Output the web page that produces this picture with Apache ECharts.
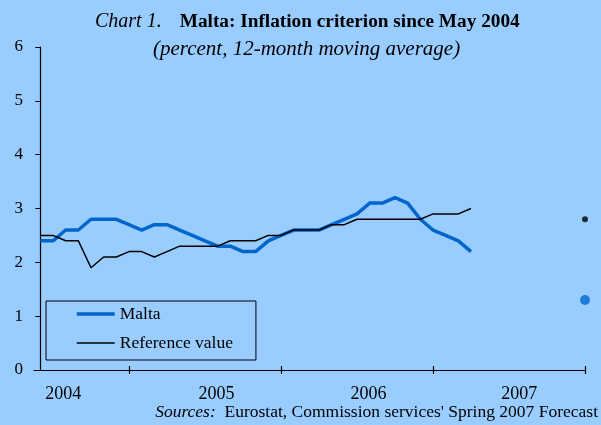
<!DOCTYPE html>
<html>
<head>
<meta charset="utf-8">
<script src="https://cdn.jsdelivr.net/npm/echarts@6/dist/echarts.min.js"></script>
<style>
html,body{margin:0;padding:0;background:#99CCFF;}
#c{width:601px;height:425px;}
</style>
</head>
<body>
<div id="c"></div>
<script>
// Month index: 0 = May 2004
var maltaValues = [
  2.4, 2.4, 2.6, 2.6, 2.8, 2.8, 2.8, 2.7,
  2.6, 2.7, 2.7, 2.6, 2.5, 2.4, 2.3, 2.3, 2.2, 2.2, 2.4, 2.5,
  2.6, 2.6, 2.6, 2.7, 2.8, 2.9, 3.1, 3.1, 3.2, 3.1, 2.8, 2.6,
  2.5, 2.4, 2.2
];
var referenceValues = [
  2.5, 2.5, 2.4, 2.4, 1.9, 2.1, 2.1, 2.2,
  2.2, 2.1, 2.2, 2.3, 2.3, 2.3, 2.3, 2.4, 2.4, 2.4, 2.5, 2.5,
  2.6, 2.6, 2.6, 2.7, 2.7, 2.8, 2.8, 2.8, 2.8, 2.8, 2.8, 2.9,
  2.9, 2.9, 3.0
];
var forecastMonth = 43; // Dec 2007
var maltaForecast = 1.3;
var referenceForecast = 2.8;
var yearLabels = ['2004', '2005', '2006', '2007'];
var yearLabelMonths = [1.8, 13.9, 25.9, 37.8];
var yearEndMonths = [7, 19, 31, 43];
var yTicks = [0, 1, 2, 3, 4, 5, 6];

function toPairs(arr) { return arr.map(function (v, i) { return [i, v]; }); }

var FONT = 'Liberation Serif';
var chart = echarts.init(document.getElementById('c'));
var xBase = {
  type: 'value', min: -0.5, max: 43, position: 'bottom',
  splitLine: { show: false }
};
chart.setOption({
  backgroundColor: '#99CCFF',
  animation: false,
  textStyle: { fontFamily: FONT, color: '#000' },
  title: [{
    left: 95, top: 12, padding: 0,
    text: '{a|Chart 1.}    {b|Malta: Inflation criterion since May 2004}',
    textStyle: { rich: {
      a: { fontFamily: FONT, fontStyle: 'italic', fontWeight: 'normal', fontSize: 20, color: '#000' },
      b: { fontFamily: FONT, fontWeight: 'bold', fontSize: 19.3, color: '#000' }
    } }
  }, {
    left: 153, top: 39, padding: 0,
    text: '(percent, 12-month moving average)',
    textStyle: { fontFamily: FONT, fontStyle: 'italic', fontWeight: 'normal', fontSize: 21, color: '#000' }
  }],
  graphic: [{
    type: 'text', right: 3, top: 403,
    style: {
      text: '{i|Sources:}  Eurostat, Commission services\' Spring 2007 Forecast',
      font: '17.5px "Liberation Serif"', fill: '#000',
      rich: { i: { fontFamily: FONT, fontStyle: 'italic', fontSize: 17.5, fill: '#000' } }
    }
  }],
  legend: {
    orient: 'vertical', left: 46, top: 301,
    padding: [4, 23, 8, 29], itemGap: 11, itemWidth: 38, itemHeight: 18,
    borderColor: '#000', borderWidth: 1, backgroundColor: '#99CCFF',
    itemStyle: { opacity: 0 },
    textStyle: { fontFamily: FONT, fontSize: 17.5, color: '#000' },
    data: [
      { name: 'Malta', lineStyle: { width: 3.5, color: '#0066CC' } },
      { name: 'Reference value', lineStyle: { width: 1.5, color: '#000' } }
    ]
  },
  grid: { left: 34, right: 16, top: 47, bottom: 55, containLabel: false },
  xAxis: [
    Object.assign({}, xBase, {
      axisLine: { show: true, lineStyle: { color: '#000', width: 1.2 } },
      axisTick: { show: true, inside: false, length: 4, customValues: yearEndMonths, lineStyle: { color: '#000', width: 1.2 } },
      axisLabel: {
        show: true, customValues: yearLabelMonths, margin: 15,
        fontFamily: FONT, fontSize: 18, color: '#000',
        formatter: function (v) {
          var i = yearLabelMonths.indexOf(v);
          return i >= 0 ? yearLabels[i] : '';
        }
      }
    }),
    Object.assign({}, xBase, {
      axisLine: { show: false },
      axisTick: { show: true, inside: true, length: 4, customValues: yearEndMonths, lineStyle: { color: '#000', width: 1.2 } },
      axisLabel: { show: false }
    })
  ],
  yAxis: {
    type: 'value', min: 0, max: 6, interval: 1,
    axisLine: { show: true, lineStyle: { color: '#000', width: 1.2 } },
    axisTick: { show: true, inside: false, length: 5, lineStyle: { color: '#000' } },
    axisLabel: { fontFamily: FONT, fontSize: 17, color: '#000', margin: 11,
      formatter: function (v) { return yTicks.indexOf(v) >= 0 ? String(v) : ''; } },
    splitLine: { show: false }
  },
  series: [
    {
      name: 'Malta', type: 'line', symbol: 'none', data: toPairs(maltaValues),
      lineStyle: { color: '#0066CC', width: 3.5 }, itemStyle: { color: '#0066CC' }, z: 2
    },
    {
      name: 'Reference value', type: 'line', symbol: 'none', data: toPairs(referenceValues),
      lineStyle: { color: '#000', width: 1.5 }, itemStyle: { color: '#000' }, z: 3
    },
    {
      name: 'Malta forecast', type: 'scatter', clip: false, symbolSize: 10,
      data: [[forecastMonth, maltaForecast]], itemStyle: { color: '#0066CC' }
    },
    {
      name: 'Reference forecast', type: 'scatter', clip: false, symbolSize: 6,
      data: [[forecastMonth, referenceForecast]], itemStyle: { color: '#000' }
    }
  ]
});
</script>
</body>
</html>
